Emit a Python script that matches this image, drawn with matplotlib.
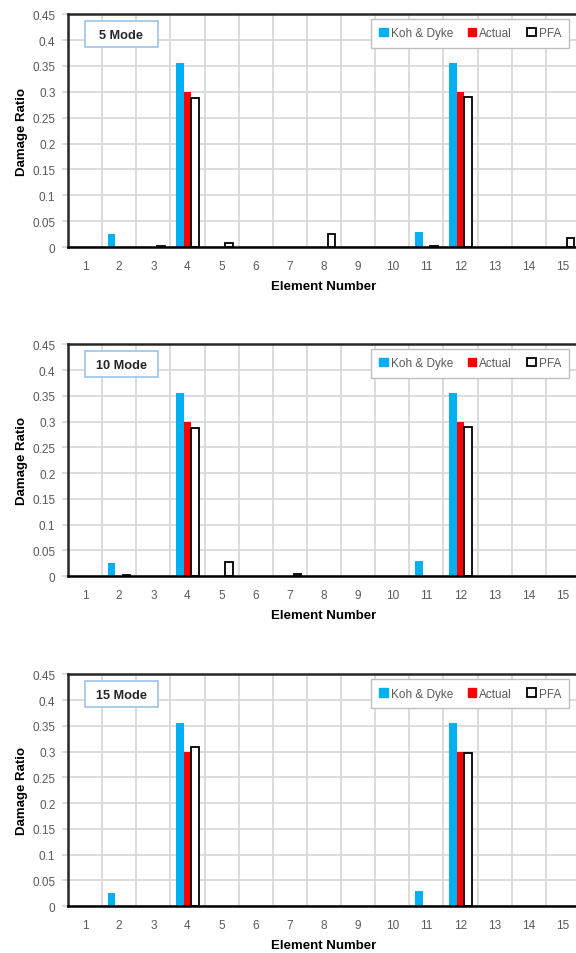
import matplotlib
matplotlib.use('Agg')

import matplotlib.pyplot as plt
from matplotlib.patches import Rectangle, Patch
from matplotlib.ticker import FixedLocator

plt.rcParams['font.family'] = ['Liberation Sans', 'DejaVu Sans']

elements = list(range(1, 16))
modes = ["5 Mode", "10 Mode", "15 Mode"]

koh_dyke = [
    [0, 0.025, 0, 0.355, 0, 0, 0, 0, 0, 0, 0.03, 0.355, 0, 0, 0],
    [0, 0.025, 0, 0.355, 0, 0, 0, 0, 0, 0, 0.03, 0.355, 0, 0, 0],
    [0, 0.025, 0, 0.355, 0, 0, 0, 0, 0, 0, 0.03, 0.355, 0, 0, 0],
]
actual = [
    [0, 0, 0, 0.30, 0, 0, 0, 0, 0, 0, 0, 0.30, 0, 0, 0],
    [0, 0, 0, 0.30, 0, 0, 0, 0, 0, 0, 0, 0.30, 0, 0, 0],
    [0, 0, 0, 0.30, 0, 0, 0, 0, 0, 0, 0, 0.30, 0, 0, 0],
]
pfa = [
    [0, 0, 0.002, 0.288, 0.008, 0, 0, 0.025, 0, 0, 0.002, 0.29, 0, 0, 0.017],
    [0, 0.002, 0, 0.288, 0.027, 0, 0.005, 0, 0, 0, 0, 0.29, 0, 0, 0],
    [0, 0, 0, 0.31, 0, 0, 0, 0, 0, 0, 0, 0.297, 0, 0, 0],
]

y_ticks = [0, 0.05, 0.1, 0.15, 0.2, 0.25, 0.3, 0.35, 0.4, 0.45]
y_tick_labels = ["0", "0.05", "0.1", "0.15", "0.2", "0.25", "0.3", "0.35", "0.4", "0.45"]

blue = '#00B0F0'
red = '#FF0000'
grid_col = '#D9D9D9'
tick_col = '#595959'

fig = plt.figure(figsize=(5.76, 9.54), dpi=100)

# panel rectangles in figure fraction [left, bottom, width, height]
panel_pos = [
    [0.118, 0.740, 0.889, 0.244],
    [0.118, 0.395, 0.889, 0.243],
    [0.118, 0.049, 0.889, 0.243],
]


def nonzero(xs, ys):
    # excel draws nothing for zero values
    pts = [(a, b) for a, b in zip(xs, ys) if b != 0]
    return [p[0] for p in pts], [p[1] for p in pts]


w = 0.22
for i in range(3):
    ax = fig.add_axes(panel_pos[i])
    ax.set_axisbelow(True)

    bx, by = nonzero([e - w for e in elements], koh_dyke[i])
    ax.bar(bx, by, width=w, color=blue, zorder=2)
    rx, ry = nonzero(elements, actual[i])
    ax.bar(rx, ry, width=w, color=red, zorder=2)
    px, py = nonzero([e + w for e in elements], pfa[i])
    ax.bar(px, py, width=w, facecolor='white',
           edgecolor='black', linewidth=1.3, zorder=3)

    ax.set_xlim(0.5, 15.5)
    ax.set_ylim(0, 0.45)
    ax.set_xticks(elements)
    ax.set_xticklabels([str(e) for e in elements])
    ax.xaxis.set_minor_locator(FixedLocator([e + 0.5 for e in elements[:-1]]))
    ax.set_yticks(y_ticks)
    ax.set_yticklabels(y_tick_labels)

    ax.grid(True, which='minor', axis='x', color=grid_col, linewidth=1.3)
    ax.grid(True, which='major', axis='y', color=grid_col, linewidth=1.3)
    ax.tick_params(axis='x', which='both', length=0, colors=tick_col,
                   labelsize=8.5, pad=9)
    ax.tick_params(axis='y', which='major', length=4, width=1.3,
                   color=grid_col, labelcolor=tick_col, labelsize=8.5, pad=5)
    ax.tick_params(axis='y', which='minor', length=0)

    for s in ax.spines.values():
        s.set_color('#262626')
        s.set_linewidth(1.8)
    ax.spines['bottom'].set_color('black')
    ax.spines['bottom'].set_zorder(5)

    ax.set_ylabel('Damage Ratio', fontsize=9.5, fontweight='bold', labelpad=3)
    ax.set_xlabel('Element Number', fontsize=9.5, fontweight='bold', labelpad=6)

    # mode title box
    ax.add_patch(Rectangle((0.033, 0.858), 0.143, 0.112, transform=ax.transAxes,
                           facecolor='white', edgecolor='#9DC3E6', linewidth=1.2,
                           zorder=6))
    ax.text(0.1045, 0.913, modes[i], transform=ax.transAxes, ha='center',
            va='center', fontsize=9.2, fontweight='bold', color='#262626', zorder=7)

    handles = [
        Patch(facecolor=blue, edgecolor=blue),
        Patch(facecolor=red, edgecolor=red),
        Patch(facecolor='white', edgecolor='black', linewidth=1.3),
    ]
    leg = ax.legend(handles, ['Koh & Dyke', 'Actual', 'PFA'], loc='upper right',
                    bbox_to_anchor=(0.979, 0.979), ncol=3, fontsize=8.5,
                    handlelength=0.7, handleheight=0.7, handletextpad=0.25,
                    columnspacing=1.3, borderaxespad=0, fancybox=False,
                    framealpha=1, borderpad=0.7)
    leg.get_frame().set_edgecolor('#BFBFBF')
    leg.get_frame().set_linewidth(1.0)
    for t in leg.get_texts():
        t.set_color(tick_col)
    leg.set_zorder(6)

plt.savefig('out.png', dpi=100)
